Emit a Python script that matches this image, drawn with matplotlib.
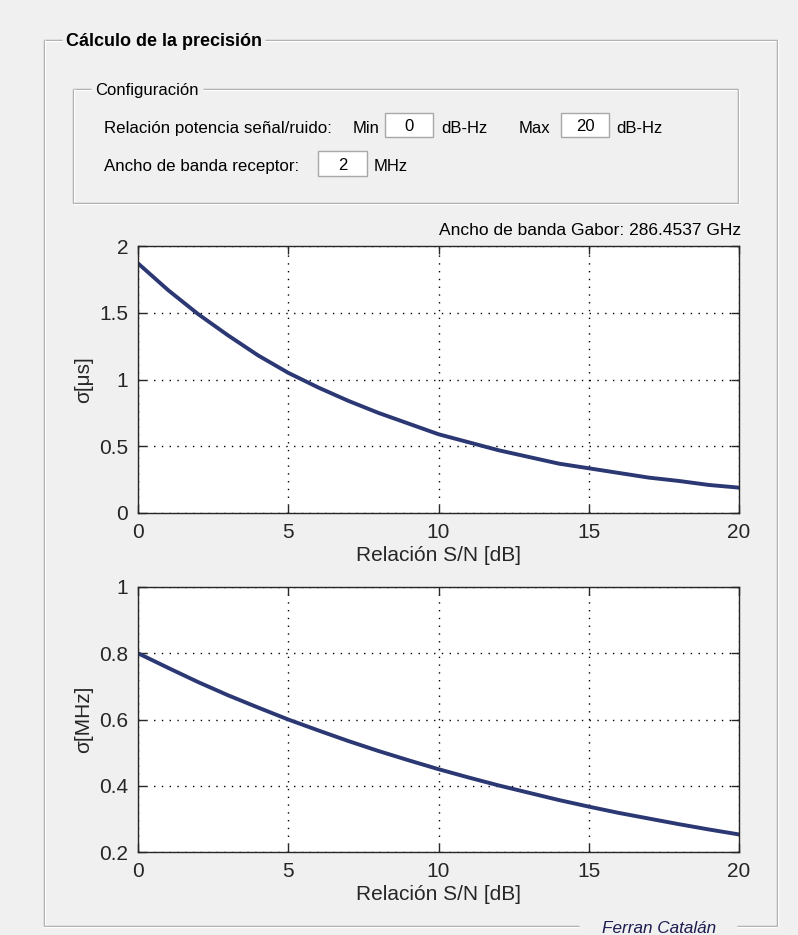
import matplotlib
matplotlib.use("Agg")
import matplotlib.pyplot as plt
from matplotlib.lines import Line2D
from matplotlib.patches import Rectangle

# ---- data ----
snr_db = [0, 1, 2, 3, 4, 5, 6, 7, 8, 9, 10, 11, 12, 13, 14, 15, 16, 17, 18, 19, 20]
sigma_us = [1.87, 1.67, 1.49, 1.33, 1.18, 1.05, 0.94, 0.84, 0.75, 0.67, 0.59,
            0.53, 0.47, 0.42, 0.37, 0.335, 0.30, 0.265, 0.24, 0.21, 0.19]
sigma_mhz = [0.80, 0.756, 0.713, 0.673, 0.636, 0.60, 0.567, 0.535, 0.505, 0.477, 0.45,
             0.425, 0.401, 0.379, 0.357, 0.337, 0.318, 0.301, 0.284, 0.268, 0.253]
xticks = [0, 5, 10, 15, 20]
yticks_top = [0, 0.5, 1, 1.5, 2]
yticks_top_labels = ["0", "0.5", "1", "1.5", "2"]
yticks_bot = [0.2, 0.4, 0.6, 0.8, 1]
yticks_bot_labels = ["0.2", "0.4", "0.6", "0.8", "1"]

W, H = 798, 935
BG = "#f0f0f0"
LINE_COLOR = "#2b3873"
FONT = "Liberation Sans"

fig = plt.figure(figsize=(W / 100, H / 100), dpi=100, facecolor=BG)


def fx(x):
    return x / W


def fy(y):
    return 1 - y / H


def hline(x0, x1, y, color="#a0a0a0", lw=1.0):
    fig.add_artist(Line2D([fx(x0), fx(x1)], [fy(y), fy(y)], color=color, lw=lw,
                          transform=fig.transFigure, solid_capstyle="butt"))


def vline(x, y0, y1, color="#a0a0a0", lw=1.0):
    fig.add_artist(Line2D([fx(x), fx(x)], [fy(y0), fy(y1)], color=color, lw=lw,
                          transform=fig.transFigure, solid_capstyle="butt"))


def etched_h(x0, x1, y):
    hline(x0, x1, y, "#a0a0a0", 1.0)
    hline(x0, x1, y + 1.3, "#ffffff", 1.0)


def etched_v(x, y0, y1):
    vline(x, y0, y1, "#a0a0a0", 1.0)
    vline(x + 1.3, y0, y1, "#ffffff", 1.0)


def text(x, y, s, size=12, ha="left", color="#000000", **kw):
    fig.text(fx(x), fy(y), s, fontsize=size, ha=ha, va="center_baseline",
             family=FONT, color=color, **kw)


def editbox(x0, x1, y0, y1, s):
    fig.add_artist(Rectangle((fx(x0), fy(y1)), fx(x1) - fx(x0), (y1 - y0) / H,
                             transform=fig.transFigure, facecolor="white",
                             edgecolor="#a8a8a8", lw=1.0))
    text((x0 + x1) / 2, (y0 + y1) / 2, s, size=12, ha="center")


# ---- outer panel ----
etched_h(44, 62, 40)
etched_h(265, 777, 40)
etched_v(44, 40, 926)
etched_v(777, 40, 926)
etched_h(44, 579, 926)
etched_h(737, 777, 926)
text(66, 39, "Cálculo de la precisión", size=13, weight="bold")
text(602, 927, "Ferran Catalán", size=12.3, style="italic", color="#1c1c50")

# ---- configuration panel ----
etched_h(73, 91, 89)
etched_h(203, 738, 89)
etched_v(73, 89, 203)
etched_v(738, 89, 203)
etched_h(73, 738, 203)
text(95, 89, "Configuración", size=12)

text(104, 127, "Relación potencia señal/ruido:", size=12.2)
text(353, 127, "Min", size=12)
editbox(385, 433, 113, 137, "0")
text(441, 127, "dB-Hz", size=12)
text(519, 127, "Max", size=12)
editbox(561, 609, 113, 137, "20")
text(616, 127, "dB-Hz", size=12)

text(104, 165, "Ancho de banda receptor:", size=12.2)
editbox(318, 367, 151, 176, "2")
text(374, 165, "MHz", size=12)

text(741, 229, "Ancho de banda Gabor: 286.4537 GHz", size=12.5, ha="right")


# ---- axes ----
def setup(ax, yt, ytl, ylim, ylabel):
    ax.set_facecolor("white")
    ax.set_xlim(0, 20)
    ax.set_ylim(*ylim)
    ax.set_xticks(xticks)
    ax.set_xticklabels([str(v) for v in xticks])
    ax.set_yticks(yt)
    ax.set_yticklabels(ytl)
    ax.grid(True, linestyle=(0, (1, 4.6)), color="black", lw=1.0)
    ax.tick_params(direction="in", length=6, width=1, top=True, right=True,
                   labelsize=15, pad=7, colors="#262626")
    for lab in ax.get_xticklabels() + ax.get_yticklabels():
        lab.set_family(FONT)
    for sp in ax.spines.values():
        sp.set_color("#262626")
        sp.set_linewidth(1.0)
    ax.set_xlabel("Relación S/N [dB]", fontsize=15, family=FONT, labelpad=3,
                  color="#262626")
    ax.set_ylabel(ylabel, fontsize=15, family=[FONT, "DejaVu Sans"], labelpad=4,
                  color="#262626")


ax1 = fig.add_axes([fx(138), fy(513), (739 - 138) / W, (513 - 246) / H])
ax1.plot(snr_db, sigma_us, color=LINE_COLOR, lw=2.8)
setup(ax1, yticks_top, yticks_top_labels, (0, 2), "σ[μs]")

ax2 = fig.add_axes([fx(138), fy(852), (739 - 138) / W, (852 - 587) / H])
ax2.plot(snr_db, sigma_mhz, color=LINE_COLOR, lw=2.8)
setup(ax2, yticks_bot, yticks_bot_labels, (0.2, 1), "σ[MHz]")

fig.savefig("out.png", dpi=100, facecolor=BG)
